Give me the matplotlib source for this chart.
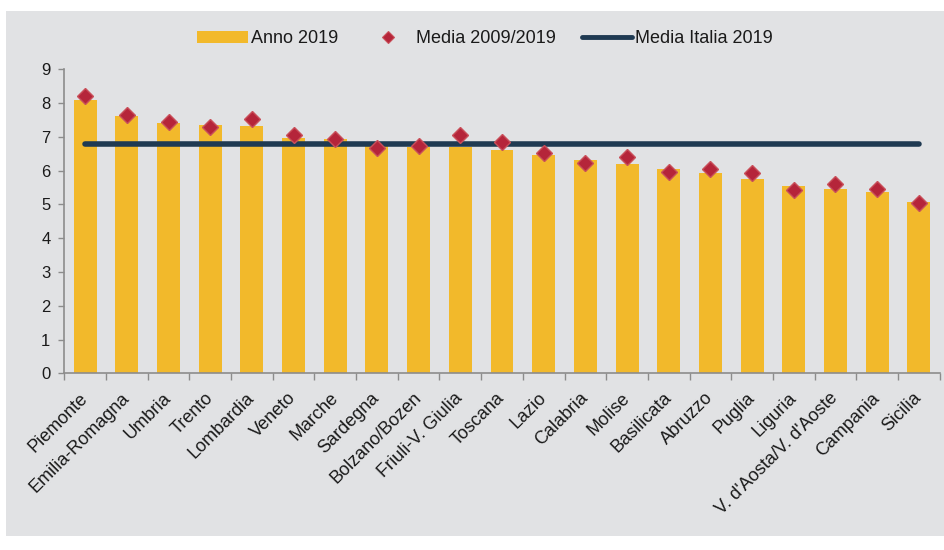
import matplotlib
matplotlib.use("Agg")
import matplotlib.pyplot as plt
from matplotlib.patches import Rectangle, Patch
from matplotlib.lines import Line2D
import numpy as np

plt.rcParams['font.family'] = ['Liberation Sans', 'DejaVu Sans']

regions = ["Piemonte", "Emilia-Romagna", "Umbria", "Trento", "Lombardia", "Veneto",
           "Marche", "Sardegna", "Bolzano/Bozen", "Friuli-V. Giulia", "Toscana", "Lazio",
           "Calabria", "Molise", "Basilicata", "Abruzzo", "Puglia", "Liguria",
           "V. d'Aosta/V. d'Aoste", "Campania", "Sicilia"]
anno_2019 = [8.09, 7.62, 7.40, 7.34, 7.31, 6.96, 6.93, 6.72, 6.70, 6.69, 6.60, 6.45,
             6.32, 6.20, 6.05, 5.92, 5.75, 5.55, 5.47, 5.38, 5.08]
media_2009_2019 = [8.21, 7.65, 7.43, 7.28, 7.54, 7.06, 6.93, 6.68, 6.74, 7.06, 6.85, 6.51,
                   6.23, 6.40, 5.96, 6.06, 5.92, 5.44, 5.61, 5.47, 5.05]
media_italia_2019 = 6.80
yticks = list(range(0, 10))

BAR = "#F2B92B"
MARK = "#B5253A"
MARK_EDGE = "#C9505A"
LINE = "#1F3A52"
BG = "#E1E2E4"
TXT = "#1a1a1a"
SPINE = "#8C8C8C"

fig = plt.figure(figsize=(9.45, 5.5), dpi=100, facecolor='white')
fig.patches.append(Rectangle((6/945, 1-536/550), 1-6/945, (536-11)/550,
                             transform=fig.transFigure, facecolor=BG, edgecolor='none',
                             zorder=-10))

ax = fig.add_axes([64.3/945, 1-373.3/550, (939.7-64.3)/945, (373.3-69.3)/550])
ax.set_facecolor('none')

x = np.arange(len(regions))
ax.bar(x, anno_2019, width=0.55, color=BAR, zorder=2)
ax.plot([x[0], x[-1]], [media_italia_2019]*2, color=LINE, lw=4, solid_capstyle='round', zorder=3)
ax.plot(x, media_2009_2019, linestyle='none', marker='D', markersize=8.3,
        markerfacecolor=MARK, markeredgecolor=MARK_EDGE, markeredgewidth=1.0, zorder=4)

ax.set_xlim(-0.5, len(regions)-0.5)
ax.set_ylim(0, 9)
ax.set_yticks(yticks)
ax.set_yticklabels([str(v) for v in yticks], fontsize=12, color=TXT)
ax.set_xticks(np.arange(-0.5, len(regions), 1.0))
ax.set_xticklabels([])
ax.set_xticks(x, minor=True)
ax.set_xticklabels(regions, minor=True, rotation=45, ha='right', va='center',
                   rotation_mode='anchor', fontsize=13, color=TXT)
ax.tick_params(axis='x', which='minor', length=0, pad=16)
ax.tick_params(axis='x', which='major', length=5, color=SPINE, width=1)
ax.tick_params(axis='y', length=4, color=SPINE, width=1, pad=6)
for s in ['top', 'right']:
    ax.spines[s].set_visible(False)
for s in ['left', 'bottom']:
    ax.spines[s].set_color(SPINE)
    ax.spines[s].set_linewidth(1.2)

handles = [Patch(facecolor=BAR, edgecolor='none'),
           Line2D([], [], linestyle='none', marker='D', markersize=6, markerfacecolor=MARK,
                  markeredgecolor=MARK_EDGE, markeredgewidth=0.8),
           Line2D([], [], color=LINE, lw=3.5, solid_capstyle='round')]
labels = ["Anno 2019", "Media 2009/2019", "Media Italia 2019"]
leg = fig.legend(handles, labels, loc='center', bbox_to_anchor=(485/945, 1-39/550), ncol=3,
                 frameon=False, fontsize=13, handlelength=2.8, handleheight=0.7,
                 handletextpad=0.15, columnspacing=1.4, labelcolor=TXT)

fig.savefig("out.png", dpi=100)
